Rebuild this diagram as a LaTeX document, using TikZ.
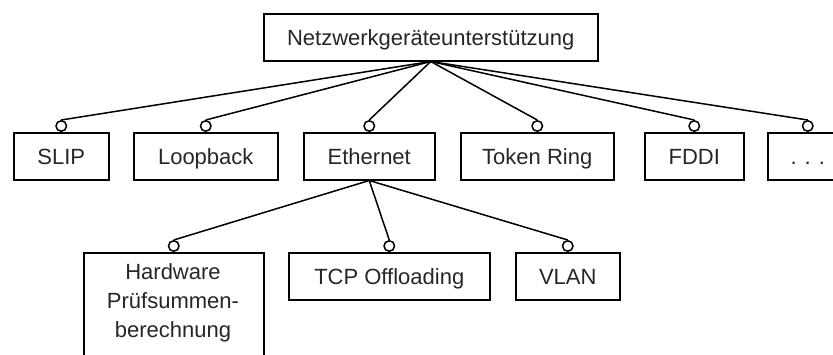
\documentclass[tikz,border=0pt]{standalone}
\usepackage{fontspec}
\setmainfont{Liberation Sans}
\begin{document}
\begin{tikzpicture}[x=1pt,y=-1pt,
  feat/.style={draw, line width=1.5pt, inner sep=0pt, anchor=north west,
    font=\fontsize{22}{29}\selectfont, text=black!85,
    text height=15.8pt, text depth=0pt},
  opt/.style={draw, circle, line width=1.5pt, fill=white, inner sep=0pt,
    minimum size=10.5pt, anchor=south},
  link/.style={line width=1.5pt}]
\useasboundingbox (0,0) rectangle (833,354);
\clip (0,0) rectangle (833,354);

% root feature
\node[feat, minimum width=334pt, minimum height=47pt] (root) at (263,13) {Netzwerkgeräteunterstützung};

% first level
\node[feat, minimum width=95pt,  minimum height=47pt] (slip) at (13,132)  {SLIP};
\node[feat, minimum width=144pt, minimum height=47pt] (loop) at (133,132) {Loopback};
\node[feat, minimum width=131pt, minimum height=47pt] (eth)  at (303,132) {Ethernet};
\node[feat, minimum width=153pt, minimum height=47pt] (tok)  at (460,132) {Token Ring};
\node[feat, minimum width=99pt,  minimum height=47pt] (fddi) at (644,132) {FDDI};
\node[feat, minimum width=80pt,  minimum height=47pt] (more) at (767,132) {.\hspace{8pt}.\hspace{8pt}.};

% second level below Ethernet
\node[feat, minimum width=180pt, minimum height=110pt] (hw) at (83,252) {};
\node[font=\fontsize{22}{29}\selectfont, text=black!85, align=center, inner sep=0pt]
  (hwtext) at (173,303) {Hardware\\Prüfsummen-\\berechnung};
\node[feat, minimum width=201pt, minimum height=47pt] (tcp)  at (288,252) {TCP Offloading};
\node[feat, minimum width=104pt, minimum height=47pt] (vlan) at (515,252) {VLAN};

% optional markers
\foreach \f in {slip,loop,eth,tok,fddi,more,hw,tcp,vlan}
  \node[opt] (o-\f) at (\f.north) {};

% connectors
\foreach \f in {slip,loop,eth,tok,fddi,more}
  \draw[link] (root.south) -- (o-\f.north);
\foreach \f in {hw,tcp,vlan}
  \draw[link] (eth.south) -- (o-\f.north);
\end{tikzpicture}
\end{document}
